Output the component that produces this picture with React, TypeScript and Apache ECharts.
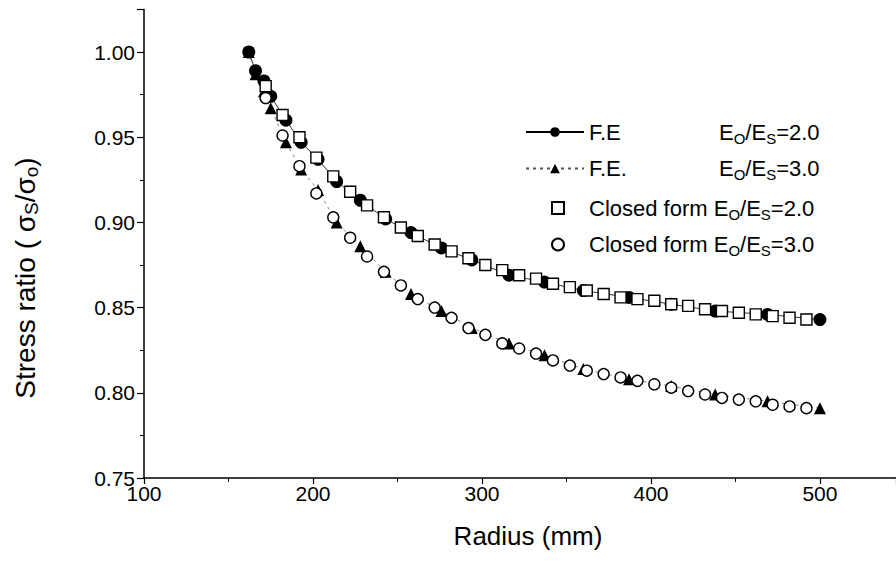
import React, { useEffect, useRef } from "react";
import * as echarts from "echarts";

// Finite-element results (sparser radii)
const feRadius = [162, 166, 171, 175, 184, 193, 203, 214, 228, 243, 258, 276, 294, 316, 337, 360, 387, 412, 438, 469, 500];
const feRatio2 = [1.0, 0.989, 0.983, 0.974, 0.96, 0.947, 0.937, 0.924, 0.913, 0.902, 0.894, 0.885, 0.878, 0.869, 0.865, 0.86, 0.856, 0.852, 0.848, 0.846, 0.843];
const feRatio3 = [1.0, 0.987, 0.977, 0.967, 0.947, 0.931, 0.919, 0.9, 0.886, 0.871, 0.858, 0.848, 0.838, 0.829, 0.822, 0.814, 0.808, 0.804, 0.799, 0.795, 0.791];

// Closed-form solution
const cfRadius = [172, 182, 192, 202, 212, 222, 232, 242, 252, 262, 272, 282, 292, 302, 312, 322, 332, 342, 352, 362, 372, 382, 392, 402, 412, 422, 432, 442, 452, 462, 472, 482, 492];
const cfRatio2 = [0.98, 0.963, 0.95, 0.938, 0.927, 0.918, 0.91, 0.903, 0.897, 0.892, 0.887, 0.883, 0.879, 0.875, 0.872, 0.869, 0.867, 0.864, 0.862, 0.86, 0.858, 0.856, 0.855, 0.854, 0.852, 0.851, 0.849, 0.848, 0.847, 0.846, 0.845, 0.844, 0.843];
const cfRatio3 = [0.973, 0.951, 0.933, 0.917, 0.903, 0.891, 0.88, 0.871, 0.863, 0.855, 0.85, 0.844, 0.838, 0.834, 0.829, 0.826, 0.823, 0.819, 0.816, 0.813, 0.811, 0.809, 0.807, 0.805, 0.803, 0.801, 0.799, 0.797, 0.796, 0.795, 0.793, 0.792, 0.791];

const xTicks = [100, 200, 300, 400, 500];
const yTicks = [0.75, 0.8, 0.85, 0.9, 0.95, 1.0];

const FONT = "'Liberation Sans', Arial, sans-serif";

const pairs = (xs: number[], ys: number[]) => xs.map((x, i) => [x, ys[i]]);

export default function App() {
  const ref = useRef<HTMLDivElement>(null);

  useEffect(() => {
    if (!ref.current) return;
    const chart = echarts.init(ref.current, undefined, { renderer: "svg" });

    const legendText: Record<string, string> = {
      fe2: "{n|F.E}{t|E}{s|O}{t|/E}{s|S}{t|=2.0}",
      fe3: "{n|F.E.}{t|E}{s|O}{t|/E}{s|S}{t|=3.0}",
      cf2: "{c|Closed form E}{s|O}{t|/E}{s|S}{t|=2.0}",
      cf3: "{c|Closed form E}{s|O}{t|/E}{s|S}{t|=3.0}",
    };

    const legendRich = {
      n: { width: 130, fontSize: 22, fontFamily: FONT, color: "#000" },
      c: { fontSize: 22, fontFamily: FONT, color: "#000", padding: [0, 0, 0, 20] },
      t: { fontSize: 22, fontFamily: FONT, color: "#000" },
      s: { fontSize: 15, fontFamily: FONT, color: "#000", padding: [12, 0, 0, 0] },
    };

    const legendBase = {
      orient: "vertical",
      padding: 0,
      itemHeight: 12,
      itemGap: 12,
      formatter: (name: string) => legendText[name],
      textStyle: { color: "#000", fontFamily: FONT, fontSize: 22, rich: legendRich },
    };

    chart.setOption({
      animation: false,
      backgroundColor: "#fff",
      grid: { left: 144, right: 0, top: 9.4, bottom: 83, containLabel: false },
      xAxis: {
        type: "value",
        min: 100,
        max: 545,
        interval: 100,
        axisLine: { show: true, lineStyle: { color: "#000", width: 1.5 } },
        axisTick: { show: true, length: 6, lineStyle: { color: "#000", width: 1.2 } },
        minorTick: { show: true, splitNumber: 2, length: 4, lineStyle: { color: "#000", width: 1 } },
        splitLine: { show: false },
        axisLabel: {
          color: "#000",
          fontFamily: FONT,
          fontSize: 21,
          margin: 5,
          showMaxLabel: false,
          formatter: (v: number) => (xTicks.includes(Math.round(v)) ? String(Math.round(v)) : ""),
        },
      },
      yAxis: {
        type: "value",
        min: 0.75,
        max: 1.025,
        interval: 0.05,
        axisLine: { show: true, lineStyle: { color: "#000", width: 1.5 } },
        axisTick: { show: true, length: 7, lineStyle: { color: "#000", width: 1.2 } },
        minorTick: { show: true, splitNumber: 2, length: 4, lineStyle: { color: "#000", width: 1 } },
        splitLine: { show: false },
        axisLabel: {
          color: "#000",
          fontFamily: FONT,
          fontSize: 21,
          margin: 9,
          showMaxLabel: false,
          formatter: (v: number) =>
            yTicks.some((t) => Math.abs(t - v) < 1e-6) ? v.toFixed(2) : "",
        },
      },
      legend: [
        { ...legendBase, left: 525, top: 121, itemWidth: 58, data: ["fe2", "fe3"] },
        { ...legendBase, left: 551, top: 197, itemWidth: 12, data: ["cf2", "cf3"] },
      ],
      graphic: [
        {
          type: "text",
          x: 528,
          y: 536,
          style: {
            text: "Radius (mm)",
            fontFamily: FONT,
            fontSize: 26,
            fill: "#000",
            align: "center",
            verticalAlign: "middle",
          },
        },
        {
          type: "text",
          x: 25,
          y: 278,
          rotation: Math.PI / 2,
          style: {
            text: "{a|Stress ratio ( σ}{b|S}{a|/σ}{b|o}{a|)}",
            align: "center",
            verticalAlign: "middle",
            rich: {
              a: { fontFamily: FONT, fontSize: 28, fill: "#000" },
              b: { fontFamily: FONT, fontSize: 19, fill: "#000", padding: [13, 0, 0, 0] },
            },
          },
        },
      ],
      series: [
        {
          name: "fe2",
          type: "line",
          data: pairs(feRadius, feRatio2),
          symbol: "circle",
          symbolSize: 13,
          itemStyle: { color: "#000" },
          lineStyle: { color: "#000", width: 0.8 },
          z: 2,
        },
        {
          name: "fe3",
          type: "line",
          data: pairs(feRadius, feRatio3),
          symbol: "triangle",
          symbolSize: 12,
          itemStyle: { color: "#000" },
          lineStyle: { color: "#555", width: 0.7, type: [3, 4] },
          z: 2,
        },
        {
          name: "cf2",
          type: "scatter",
          data: pairs(cfRadius, cfRatio2),
          symbol: "rect",
          symbolSize: 11,
          itemStyle: { color: "#fff", borderColor: "#000", borderWidth: 1.4, opacity: 1 },
          z: 3,
        },
        {
          name: "cf3",
          type: "scatter",
          data: pairs(cfRadius, cfRatio3),
          symbol: "circle",
          symbolSize: 11,
          itemStyle: { color: "#fff", borderColor: "#000", borderWidth: 1.4, opacity: 1 },
          z: 3,
        },
      ],
    });

    return () => chart.dispose();
  }, []);

  return (
    <div
      ref={ref}
      style={{ position: "fixed", left: 0, top: 0, width: 896, height: 561, background: "#fff" }}
    />
  );
}
